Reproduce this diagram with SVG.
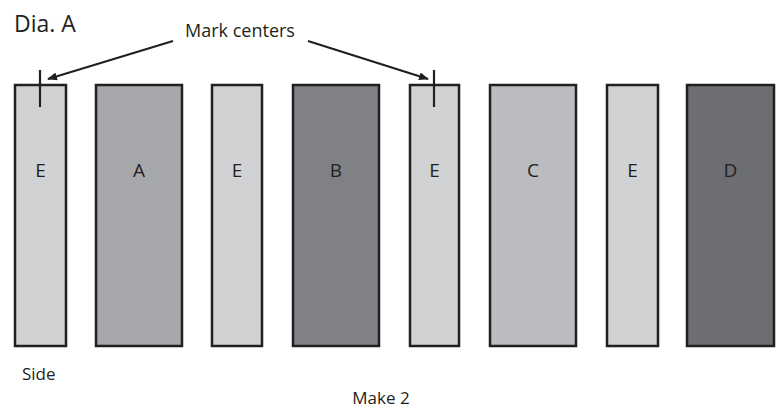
<svg xmlns="http://www.w3.org/2000/svg" width="780" height="411" viewBox="0 0 780 411">
<defs>
<style>
.r{stroke:#231f20;stroke-width:2.5}
.t{font-family:"Open Sans","Liberation Sans",sans-serif;fill:#231f20}
.l{font-size:19px;text-anchor:middle}
.c{stroke:#231f20;stroke-width:2.2;fill:none}
</style>
<marker id="ah" markerWidth="10" markerHeight="8" refX="9" refY="4" orient="auto" markerUnits="userSpaceOnUse">
<path d="M0,0 L10,4 L0,8 Z" fill="#231f20"/>
</marker>
</defs>
<rect width="780" height="411" fill="#fff"/>
<text class="t" x="14" y="32" font-size="23">Dia. A</text>
<text class="t" x="240" y="37" font-size="18" text-anchor="middle">Mark centers</text>
<g id="E1"><rect class="r" x="15" y="85" width="51" height="261" fill="#d1d2d4"/><text class="t l" x="40.5" y="177">E</text></g>
<g id="A"><rect class="r" x="96" y="85" width="86" height="261" fill="#a7a8ab"/><text class="t l" x="139" y="177">A</text></g>
<g id="E2"><rect class="r" x="212" y="85" width="50" height="261" fill="#d1d2d4"/><text class="t l" x="237" y="177">E</text></g>
<g id="B"><rect class="r" x="293" y="85" width="86" height="261" fill="#808184"/><text class="t l" x="336" y="177">B</text></g>
<g id="E3"><rect class="r" x="410" y="85" width="49" height="261" fill="#d1d2d4"/><text class="t l" x="434.5" y="177">E</text></g>
<g id="C"><rect class="r" x="490" y="85" width="86" height="261" fill="#bbbcbf"/><text class="t l" x="533" y="177">C</text></g>
<g id="E4"><rect class="r" x="607" y="85" width="51" height="261" fill="#d1d2d4"/><text class="t l" x="632.5" y="177">E</text></g>
<g id="D"><rect class="r" x="687" y="85" width="87" height="261" fill="#6d6e71"/><text class="t l" x="730.5" y="177">D</text></g>
<g id="connectors">
<line class="c" x1="40" y1="70" x2="40" y2="107"/>
<line class="c" x1="434" y1="70" x2="434" y2="107"/>
<line class="c" x1="173" y1="41" x2="48" y2="79" marker-end="url(#ah)"/>
<line class="c" x1="308" y1="41" x2="428" y2="79" marker-end="url(#ah)"/>
</g>
<text class="t" x="22" y="380" font-size="17">Side</text>
<text class="t" x="381" y="404" font-size="17" text-anchor="middle">Make 2</text>
</svg>
